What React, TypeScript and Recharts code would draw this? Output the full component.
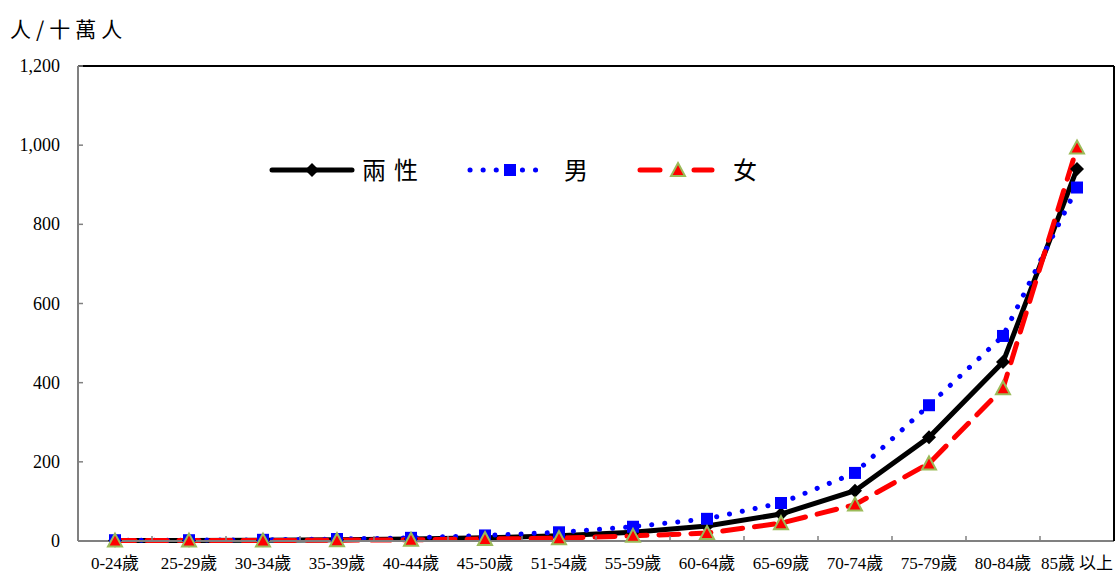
import { Legend, Line, LineChart, XAxis, YAxis } from "recharts";

const ageGroups = [
  "0-24歲", "25-29歲", "30-34歲", "35-39歲", "40-44歲", "45-50歲", "51-54歲",
  "55-59歲", "60-64歲", "65-69歲", "70-74歲", "75-79歲", "80-84歲", "85歲 以上",
];
const bothSexes = [1, 1, 2, 3, 5, 8, 13, 22, 38, 68, 127, 262, 452, 940];
const male = [2, 2, 3, 5, 8, 14, 22, 36, 56, 96, 172, 343, 518, 893];
const female = [1, 1, 1, 2, 3, 5, 7, 13, 20, 45, 92, 196, 386, 994];
const yTicks = [0, 200, 400, 600, 800, 1000, 1200];

const chartData = ageGroups.map((name, i) => ({
  name,
  both: bothSexes[i],
  male: male[i],
  female: female[i],
}));

const SERIF = "'Liberation Serif', 'Times New Roman', 'Noto Sans CJK TC', serif";
const CJK = "'Noto Sans CJK TC', 'Liberation Serif', serif";

const Diamond = ({ cx, cy, index }: any) => (
  <path key={"d" + index} d={`M${cx},${cy - 7}L${cx + 7},${cy}L${cx},${cy + 7}L${cx - 7},${cy}Z`} fill="#000" />
);
const Square = ({ cx, cy, index }: any) => (
  <rect key={"s" + index} x={cx - 6} y={cy - 6} width={12} height={12} fill="#0000ff" />
);
const Triangle = ({ cx, cy, index }: any) => (
  <path
    key={"t" + index}
    d={`M${cx},${cy - 7}L${cx + 7},${cy + 6}L${cx - 7},${cy + 6}Z`}
    fill="#ff0000"
    stroke="#9bbb59"
    strokeWidth={2}
  />
);

const XTick = ({ x, y, payload, index }: any) => (
  <g>
    <text x={x} y={y + 28} textAnchor="middle" style={{ fontSize: 17, fontFamily: SERIF }} fill="#000">
      {payload.value}
    </text>
    {index < ageGroups.length - 1 && (
      <line x1={x + 37} x2={x + 37} y1={y} y2={y - 5} stroke="#808080" strokeWidth={1.5} />
    )}
  </g>
);

const YTick = ({ x, y, payload }: any) => (
  <g>
    <text x={x - 18} y={y + 6} textAnchor="end" style={{ fontSize: 18, fontFamily: SERIF }} fill="#000">
      {payload.value.toLocaleString("en-US")}
    </text>
    <line x1={x} x2={x + 5} y1={y} y2={y} stroke="#808080" strokeWidth={1.5} />
  </g>
);

const renderLegend = () => (
  <svg width={520} height={40}>
    <line x1={10} x2={90} y1={20} y2={20} stroke="#000" strokeWidth={5} strokeLinecap="round" />
    <Diamond cx={50} cy={20} index={0} />
    <text x={100} y={29} style={{ fontSize: 24, fontFamily: CJK, letterSpacing: 8 }}>兩性</text>
    <line x1={208} x2={283} y1={20} y2={20} stroke="#0000ff" strokeWidth={5} strokeDasharray="0.1 13" strokeLinecap="round" />
    <Square cx={248} cy={20} index={0} />
    <text x={302} y={29} style={{ fontSize: 24, fontFamily: CJK }}>男</text>
    <line x1={378} x2={450} y1={20} y2={20} stroke="#ff0000" strokeWidth={5} strokeDasharray="20 34" strokeLinecap="round" />
    <Triangle cx={416} cy={20} index={0} />
    <text x={471} y={29} style={{ fontSize: 24, fontFamily: CJK }}>女</text>
  </svg>
);

export default function App() {
  return (
    <div style={{ position: "absolute", left: 0, top: 0, width: 1117, height: 572, background: "#fff" }}>
      <div
        style={{
          position: "absolute",
          left: 10,
          top: 13,
          fontSize: 21,
          fontFamily: CJK,
          letterSpacing: 5,
          color: "#000",
        }}
      >
        人/十萬人
      </div>
      <LineChart width={1117} height={572} data={chartData} margin={{ top: 65, right: 2, bottom: 0, left: 0 }}>
        <XAxis
          dataKey="name"
          padding={{ left: 37, right: 37 }}
          axisLine={{ stroke: "#808080", strokeWidth: 2 }}
          tickLine={false}
          tickSize={0}
          tickMargin={0}
          tick={<XTick />}
          interval={0}
          height={31}
        />
        <XAxis
          xAxisId="top"
          orientation="top"
          dataKey="name"
          axisLine={{ stroke: "#000", strokeWidth: 2 }}
          tick={false}
          tickLine={false}
          height={1}
        />
        <YAxis
          domain={[0, 1200]}
          ticks={yTicks}
          axisLine={{ stroke: "#808080", strokeWidth: 2 }}
          tickLine={false}
          tickSize={0}
          tickMargin={0}
          tick={<YTick />}
          width={78}
        />
        <YAxis
          yAxisId="right"
          orientation="right"
          domain={[0, 1200]}
          axisLine={{ stroke: "#000", strokeWidth: 2 }}
          tick={false}
          tickLine={false}
          width={1}
        />
        <Legend
          layout="horizontal"
          verticalAlign="middle"
          align="center"
          content={renderLegend}
          wrapperStyle={{ position: "absolute", left: 262, top: 150, width: 520, height: 40 }}
        />
        <Line dataKey="both" stroke="#000" strokeWidth={5} dot={Diamond} activeDot={false} isAnimationActive={false} />
        <Line
          dataKey="male"
          stroke="#0000ff"
          strokeWidth={5}
          strokeDasharray="0.1 13"
          strokeLinecap="round"
          dot={Square}
          activeDot={false}
          isAnimationActive={false}
        />
        <Line
          dataKey="female"
          stroke="#ff0000"
          strokeWidth={5}
          strokeDasharray="20 12"
          strokeLinecap="round"
          dot={Triangle}
          activeDot={false}
          isAnimationActive={false}
        />
      </LineChart>
    </div>
  );
}
